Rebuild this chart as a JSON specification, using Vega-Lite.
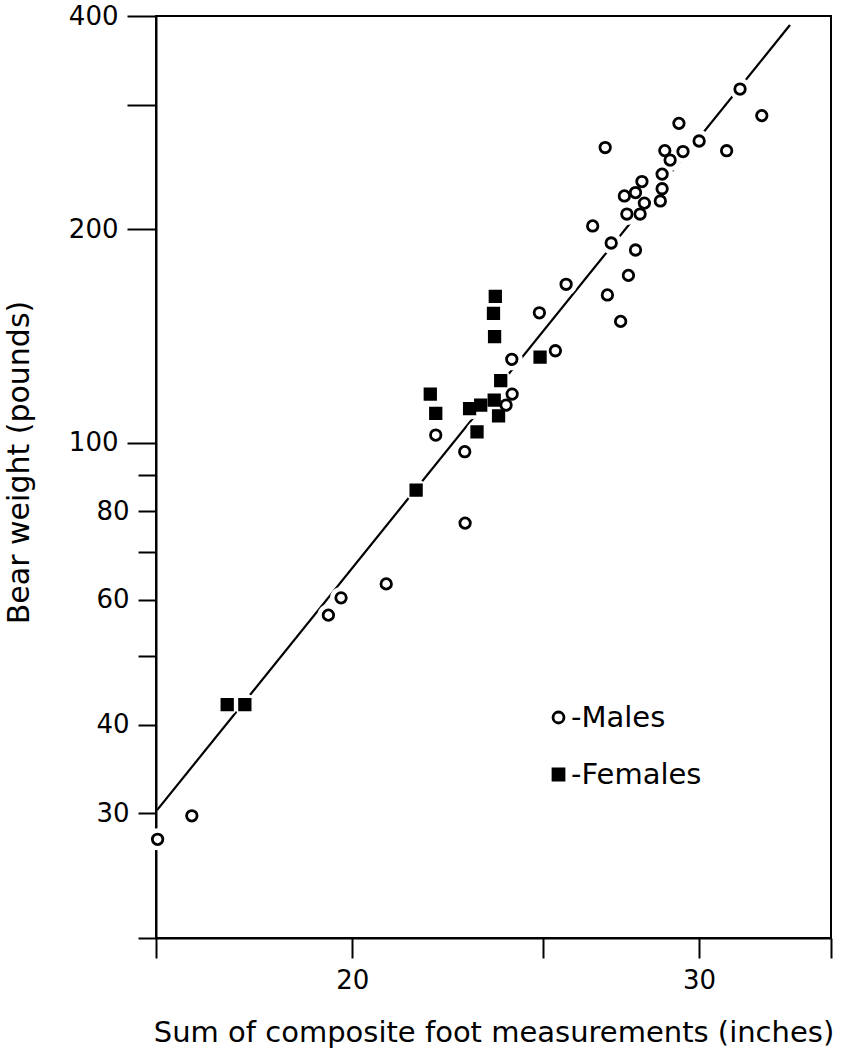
{
  "$schema": "https://vega.github.io/schema/vega-lite/v6.json",
  "width": 675,
  "height": 922,
  "autosize": {"type": "none"},
  "padding": {"left": 156, "top": 16, "right": 17, "bottom": 112},
  "background": "white",
  "config": {
    "view": {"stroke": "black", "strokeWidth": 2},
    "font": "DejaVu Sans",
    "axis": {
      "domainColor": "black", "domainWidth": 2, "tickColor": "black", "tickWidth": 2,
      "labelColor": "black", "titleColor": "black", "grid": false,
      "labelFont": "DejaVu Sans", "titleFont": "DejaVu Sans",
      "labelFontWeight": "normal", "titleFontWeight": "normal",
      "labelOverlap": false, "labelFlush": false, "labelBound": false
    }
  },
  "datasets": {
    "fit": [
      {"foot": 15.92, "weight": 30.3},
      {"foot": 33.36, "weight": 388.5}
    ],
    "bears": [
      {"foot": 31.47, "weight": 315.5, "sex": "Males"},
      {"foot": 32.28, "weight": 289.4, "sex": "Males"},
      {"foot": 29.30, "weight": 282.2, "sex": "Males"},
      {"foot": 30.00, "weight": 266.5, "sex": "Males"},
      {"foot": 30.98, "weight": 258.2, "sex": "Males"},
      {"foot": 26.88, "weight": 260.9, "sex": "Males"},
      {"foot": 28.82, "weight": 258.3, "sex": "Males"},
      {"foot": 29.44, "weight": 257.5, "sex": "Males"},
      {"foot": 29.00, "weight": 250.5, "sex": "Males"},
      {"foot": 28.73, "weight": 239.3, "sex": "Males"},
      {"foot": 28.06, "weight": 233.6, "sex": "Males"},
      {"foot": 27.49, "weight": 222.9, "sex": "Males"},
      {"foot": 27.85, "weight": 225.4, "sex": "Males"},
      {"foot": 28.73, "weight": 228.2, "sex": "Males"},
      {"foot": 28.14, "weight": 217.8, "sex": "Males"},
      {"foot": 28.67, "weight": 219.3, "sex": "Males"},
      {"foot": 27.57, "weight": 210.2, "sex": "Males"},
      {"foot": 28.00, "weight": 210.2, "sex": "Males"},
      {"foot": 26.49, "weight": 202.2, "sex": "Males"},
      {"foot": 27.07, "weight": 191.3, "sex": "Males"},
      {"foot": 27.85, "weight": 187.0, "sex": "Males"},
      {"foot": 27.62, "weight": 172.2, "sex": "Males"},
      {"foot": 25.68, "weight": 167.3, "sex": "Males"},
      {"foot": 26.95, "weight": 161.6, "sex": "Males"},
      {"foot": 27.37, "weight": 148.3, "sex": "Males"},
      {"foot": 24.89, "weight": 152.5, "sex": "Males"},
      {"foot": 25.36, "weight": 134.8, "sex": "Males"},
      {"foot": 24.10, "weight": 131.1, "sex": "Males"},
      {"foot": 24.11, "weight": 117.1, "sex": "Males"},
      {"foot": 23.94, "weight": 113.0, "sex": "Males"},
      {"foot": 22.05, "weight": 102.5, "sex": "Males"},
      {"foot": 22.81, "weight": 97.1, "sex": "Males"},
      {"foot": 22.82, "weight": 77.0, "sex": "Males"},
      {"foot": 20.81, "weight": 63.2, "sex": "Males"},
      {"foot": 19.74, "weight": 60.4, "sex": "Males"},
      {"foot": 19.45, "weight": 57.1, "sex": "Males"},
      {"foot": 16.58, "weight": 29.75, "sex": "Males"},
      {"foot": 15.93, "weight": 27.56, "sex": "Males"},
      {"foot": 23.64, "weight": 160.8, "sex": "Females"},
      {"foot": 23.59, "weight": 152.2, "sex": "Females"},
      {"foot": 23.62, "weight": 141.1, "sex": "Females"},
      {"foot": 24.91, "weight": 132.0, "sex": "Females"},
      {"foot": 23.79, "weight": 122.3, "sex": "Females"},
      {"foot": 23.61, "weight": 114.8, "sex": "Females"},
      {"foot": 23.24, "weight": 113.0, "sex": "Females"},
      {"foot": 22.94, "weight": 111.7, "sex": "Females"},
      {"foot": 21.91, "weight": 117.1, "sex": "Females"},
      {"foot": 22.05, "weight": 110.0, "sex": "Females"},
      {"foot": 23.73, "weight": 109.1, "sex": "Females"},
      {"foot": 23.14, "weight": 103.6, "sex": "Females"},
      {"foot": 21.55, "weight": 85.7, "sex": "Females"},
      {"foot": 17.28, "weight": 42.7, "sex": "Females"},
      {"foot": 17.64, "weight": 42.7, "sex": "Females"}
    ]
  },
  "encoding": {
    "x": {
      "field": "foot", "type": "quantitative",
      "scale": {"type": "log", "domain": [15.9, 35], "nice": false},
      "axis": {
        "title": "Sum of composite foot measurements (inches)",
        "values": [15.9, 20, 25, 30, 35],
        "labelExpr": "datum.value == 20 || datum.value == 30 ? '' + datum.value : ''",
        "tickSize": 20, "labelPadding": 9, "labelFontSize": 26,
        "titleFontSize": 29, "titleY": 103, "titleBaseline": "alphabetic"
      }
    },
    "y": {
      "field": "weight", "type": "quantitative",
      "scale": {"type": "log", "domain": [20, 400], "nice": false},
      "axis": {
        "title": "Bear weight (pounds)",
        "values": [20, 30, 40, 50, 60, 70, 80, 90, 100, 200, 300, 400],
        "labelExpr": "indexof([30, 40, 60, 80, 100, 200, 400], datum.value) >= 0 ? '' + datum.value : ''",
        "tickSize": {"condition": {"test": "datum.value >= 100", "value": 29}, "value": 18},
        "labelPadding": 9, "labelFontSize": 26,
        "titleFontSize": 30, "titleAngle": 270, "titleX": -137, "titleY": 446,
        "titleAlign": "center", "titleBaseline": "middle"
      }
    }
  },
  "layer": [
    {
      "data": {"name": "fit"},
      "mark": {"type": "line", "color": "black", "strokeWidth": 2.2}
    },
    {
      "data": {"name": "bears"},
      "mark": {"type": "point", "filled": true, "color": "white", "size": 480, "opacity": 1, "strokeWidth": 0, "shape": "circle"}
    },
    {
      "data": {"name": "bears"},
      "mark": {"type": "point", "filled": true, "stroke": "black", "strokeWidth": 2.8, "opacity": 1, "size": 110},
      "encoding": {
        "fill": {
          "field": "sex", "type": "nominal",
          "scale": {"domain": ["Males", "Females"], "range": ["white", "black"]},
          "legend": {
            "orient": "none", "legendX": 388, "legendY": 687, "title": null,
            "labelExpr": "'-' + datum.label", "labelFontSize": 29, "labelFont": "DejaVu Sans",
            "labelColor": "black", "symbolSize": 120, "symbolStrokeColor": "black",
            "symbolStrokeWidth": 2.8, "rowPadding": 27, "labelOffset": -2, "padding": 0,
            "symbolOpacity": 1
          }
        },
        "shape": {
          "field": "sex", "type": "nominal",
          "scale": {"domain": ["Males", "Females"], "range": ["circle", "square"]}
        }
      }
    }
  ]
}
